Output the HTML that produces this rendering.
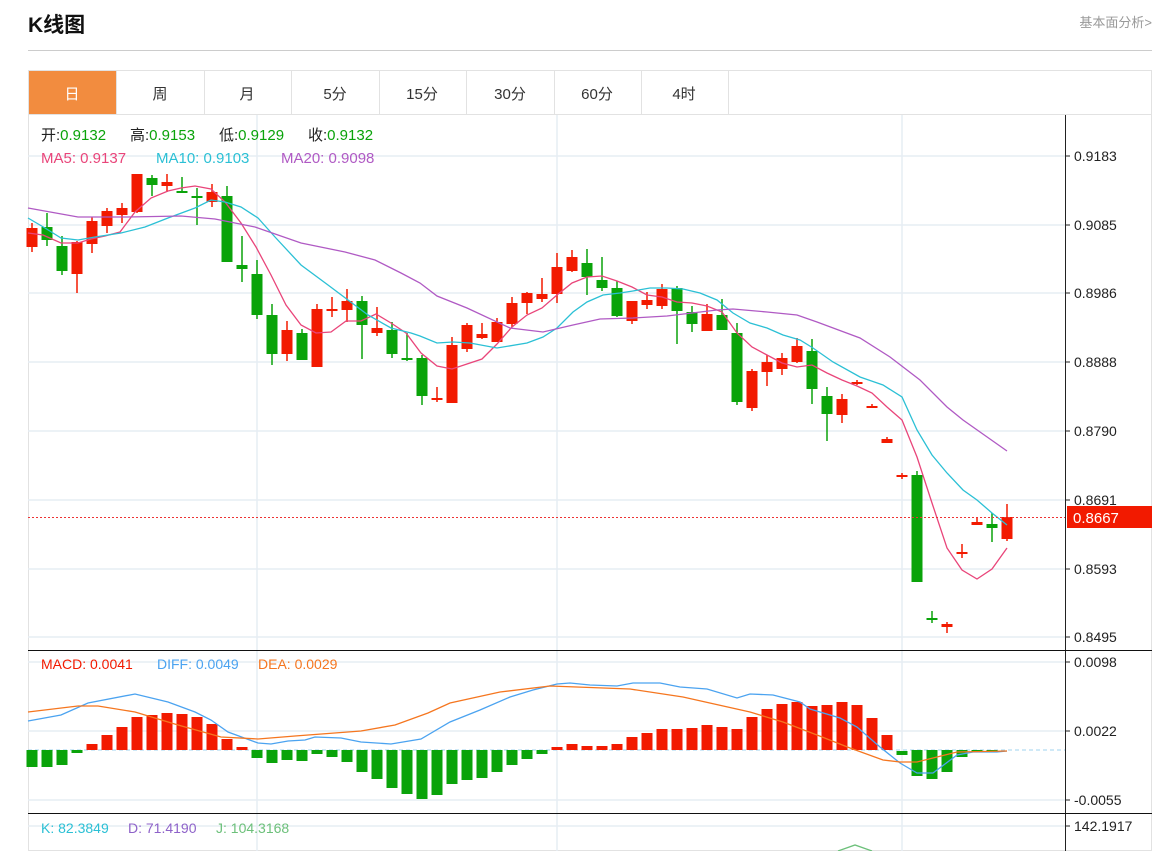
<!DOCTYPE html>
<html><head><meta charset="utf-8"><style>
body{margin:0;background:#fff;width:1165px;height:851px;overflow:hidden;font-family:"Liberation Sans","Noto Sans CJK SC",sans-serif;}
</style></head><body>
<svg id="s" width="1165" height="851" xmlns="http://www.w3.org/2000/svg" font-family="Liberation Sans, Noto Sans CJK SC, sans-serif">
<text x="28" y="32" font-size="21" font-weight="bold" fill="#111">K线图</text>
<text x="1152" y="27" font-size="13" fill="#999" text-anchor="end">基本面分析&gt;</text>
<line x1="28" y1="50.5" x2="1152" y2="50.5" stroke="#ccc"/>
<rect x="28.5" y="70.5" width="1123" height="780" fill="none" stroke="#e2e2e2"/>
<line x1="28" y1="114.5" x2="1152" y2="114.5" stroke="#e2e2e2"/>
<rect x="29" y="71" width="87" height="43" fill="#f28c3f"/>
<g stroke="#e2e2e2"><line x1="116.5" y1="71" x2="116.5" y2="114"/><line x1="204.5" y1="71" x2="204.5" y2="114"/><line x1="291.5" y1="71" x2="291.5" y2="114"/><line x1="379.5" y1="71" x2="379.5" y2="114"/><line x1="466.5" y1="71" x2="466.5" y2="114"/><line x1="554.5" y1="71" x2="554.5" y2="114"/><line x1="641.5" y1="71" x2="641.5" y2="114"/><line x1="728.5" y1="71" x2="728.5" y2="114"/></g>
<g font-size="15" text-anchor="middle" fill="#333"><text x="72" y="99" fill="#fff">日</text><text x="160" y="99">周</text><text x="247" y="99">月</text><text x="335" y="99">5分</text><text x="422" y="99">15分</text><text x="510" y="99">30分</text><text x="597" y="99">60分</text><text x="684" y="99">4时</text></g>
<g id="grid" stroke="#e6edf3" stroke-width="1.5"></g>
<g id="plot"></g>
<line x1="1065.5" y1="115" x2="1065.5" y2="851" stroke="#222"/>
<line x1="28" y1="650.5" x2="1152" y2="650.5" stroke="#111"/>
<line x1="28" y1="813.5" x2="1152" y2="813.5" stroke="#111"/>
<g id="ticks" font-size="14" fill="#222"></g>
<line x1="28" y1="517.5" x2="1065" y2="517.5" stroke="#e33" stroke-dasharray="2,2"/>
<rect x="1067" y="506" width="85" height="22" fill="#f21a00"/>
<text x="1073" y="523" font-size="15" fill="#fff">0.8667</text>
<g font-size="15">
<text x="41" y="140" fill="#222">开:<tspan fill="#0aa30a">0.9132</tspan></text>
<text x="130" y="140" fill="#222">高:<tspan fill="#0aa30a">0.9153</tspan></text>
<text x="219" y="140" fill="#222">低:<tspan fill="#0aa30a">0.9129</tspan></text>
<text x="308" y="140" fill="#222">收:<tspan fill="#0aa30a">0.9132</tspan></text>
<text x="41" y="163" fill="#e9457a">MA5: 0.9137</text>
<text x="156" y="163" fill="#2bc0d5">MA10: 0.9103</text>
<text x="281" y="163" fill="#b05ac4">MA20: 0.9098</text>
<text x="41" y="669" font-size="14" fill="#f21a00">MACD: 0.0041</text>
<text x="157" y="669" font-size="14" fill="#4ba3f0">DIFF: 0.0049</text>
<text x="258" y="669" font-size="14" fill="#f5761f">DEA: 0.0029</text>
<text x="41" y="833" font-size="14" fill="#2bc0d5">K: 82.3849</text>
<text x="128" y="833" font-size="14" fill="#8e62c9">D: 71.4190</text>
<text x="216" y="833" font-size="14" fill="#6cc07a">J: 104.3168</text>
</g>
</svg>
<script>
var NS="http://www.w3.org/2000/svg";
function el(p,t,a){var e=document.createElementNS(NS,t);for(var k in a)e.setAttribute(k,a[k]);document.getElementById(p).appendChild(e);return e;}
[156,225,293,362,431,500,569,637,662,731,800,826].forEach(function(y){el("grid","line",{x1:28,x2:1065,y1:y,y2:y});});
[257,557,902].forEach(function(x){el("grid","line",{x1:x,x2:x,y1:115,y2:851});});
var T=[["0.9183",156],["0.9085",225],["0.8986",293],["0.8888",362],["0.8790",431],["0.8691",500],["0.8593",569],["0.8495",637],["0.0098",662],["0.0022",731],["-0.0055",800],["142.1917",826]];
T.forEach(function(t){el("ticks","line",{x1:1065,x2:1070,y1:t[1],y2:t[1],stroke:"#222"});var e=el("ticks","text",{x:1074,y:t[1]+5});e.textContent=t[0];});
var R="#f21a00",G="#0aa30a";
var C=[[228,247,223,252,R],[227,240,213,246,G],[246,271,236,275,G],[242,274,241,293,R],[221,244,217,253,R],[211,226,208,233,R],[208,215,203,223,R],[174,212,174,213,R],[178,185,175,196,G],[182,186,174,192,R],[191,193,177,193,G],[196,198,188,225,G],[192,202,184,207,R],[196,262,186,262,G],[265,269,236,282,G],[274,315,260,319,G],[315,354,304,365,G],[330,354,321,361,R],[333,360,329,360,G],[309,367,304,367,R],[309,310,297,317,R],[301,310,289,322,R],[301,325,296,359,G],[328,333,307,336,R],[330,354,322,358,G],[358,359,333,361,G],[358,396,355,405,G],[398,399,387,402,R],[345,403,337,403,R],[325,349,323,352,R],[334,338,323,339,R],[322,342,318,342,R],[303,324,297,327,R],[293,303,292,314,R],[294,299,278,302,R],[267,294,253,303,R],[257,271,250,272,R],[263,277,249,295,G],[280,288,257,291,G],[288,316,281,317,G],[301,321,301,324,R],[300,305,292,309,R],[289,306,284,309,R],[288,311,286,344,G],[312,324,306,332,G],[314,331,304,331,R],[315,330,299,330,G],[333,402,323,405,G],[371,408,369,411,R],[362,372,355,386,R],[358,369,353,375,R],[346,362,338,363,R],[351,389,339,404,G],[396,414,387,441,G],[399,415,394,423,R],[382,383,380,385,R],[406,408,404,408,R],[439,443,437,443,R],[475,477,473,479,R],[475,582,471,582,G],[618,620,611,623,G],[624,627,622,633,R],[552,554,544,558,R],[522,525,517,525,R],[524,528,513,542,G],[517,539,504,541,R]];
C.forEach(function(c,i){var x=32+15*i;el("plot","line",{x1:x,x2:x,y1:c[2],y2:c[3],stroke:c[4],"stroke-width":1.5});var h=Math.max(2,c[1]-c[0]);el("plot","rect",{x:x-5.5,y:c[0],width:11,height:h,fill:c[4]});});
function pl(pts,col){el("plot","polyline",{points:pts,fill:"none",stroke:col,"stroke-width":1.3});}
pl("28,233 43,235 61,243 78,243 91,239 105,236 120,232 135,212 151,198 168,191 181,188 195,186 211,189 225,202 241,223 256,247 271,275 286,305 301,325 316,333 331,332 346,321 361,321 376,314 391,323 406,333 421,353 437,366 452,369 467,364 482,359 497,344 512,327 527,315 542,308 557,295 572,283 587,277 602,276 617,281 632,287 647,295 662,297 677,302 692,303 707,306 722,312 737,333 752,347 767,355 782,363 797,367 812,365 827,373 842,380 857,386 872,393 887,407 902,420 917,457 932,503 947,548 962,570 977,579 992,569 1007,548","#e9457a");
pl("28,218 45,228 61,238 78,240 95,237 121,233 145,227 168,218 195,208 211,200 225,202 241,207 258,218 275,237 301,265 328,285 348,300 368,315 391,328 411,333 420,336 437,343 453,342 470,343 497,348 527,343 543,337 557,328 573,312 587,302 603,295 620,293 633,291 650,288 667,288 683,289 700,293 717,300 733,313 750,323 767,328 783,335 800,340 813,348 833,362 860,377 883,385 902,397 917,430 932,455 947,473 963,490 977,500 992,513 1007,525","#2bc0d5");
pl("28,208 78,217 128,217 181,216 215,219 255,227 301,243 345,252 375,260 401,273 420,283 437,296 467,308 510,328 543,332 573,325 600,319 633,318 667,316 717,310 733,309 767,312 797,315 817,322 860,338 890,357 920,380 947,407 963,420 1007,451","#b05ac4");
el("plot","line",{x1:28,x2:1065,y1:750,y2:750,stroke:"#9fd3ef","stroke-dasharray":"4,3"});
var H=[767,767,765,753,744,735,727,717,715,713,714,717,724,739,747,758,763,760,761,754,757,762,772,779,788,794,799,795,784,780,778,772,765,759,754,747,744,746,746,744,737,733,729,729,728,725,727,729,717,709,704,702,706,705,702,705,718,735,754,776,779,772,757,752,751,750];
H.forEach(function(y,i){var x=32+15*i;var g=y>750;var t=g?(i==58?751:750):y;var h=Math.abs(y-750);if(h<1)return;el("plot","rect",{x:x-5.5,y:t,width:11,height:Math.max(2,h),fill:g?G:R});});
pl("28,721 61,715 88,703 135,694 168,702 195,712 211,720 228,732 258,743 271,744 288,741 305,740 315,737 341,738 361,742 391,744 421,739 450,722 480,710 510,697 533,690 557,684 570,683 590,685 617,686 633,683 660,683 680,687 707,689 737,698 750,694 773,695 800,702 810,709 840,718 857,727 880,747 900,763 917,773 933,773 957,755 973,752 997,752 1007,751","#4ba3f0");
pl("28,712 78,706 98,706 135,712 178,725 221,737 258,739 295,736 361,731 395,725 428,713 450,703 500,692 550,686 630,689 683,697 750,712 783,722 817,735 850,748 883,760 900,762 917,762 957,752 1007,751","#f5761f");
pl("838,851 855,845 872,851","#6cc07a");
</script>
</body></html>
